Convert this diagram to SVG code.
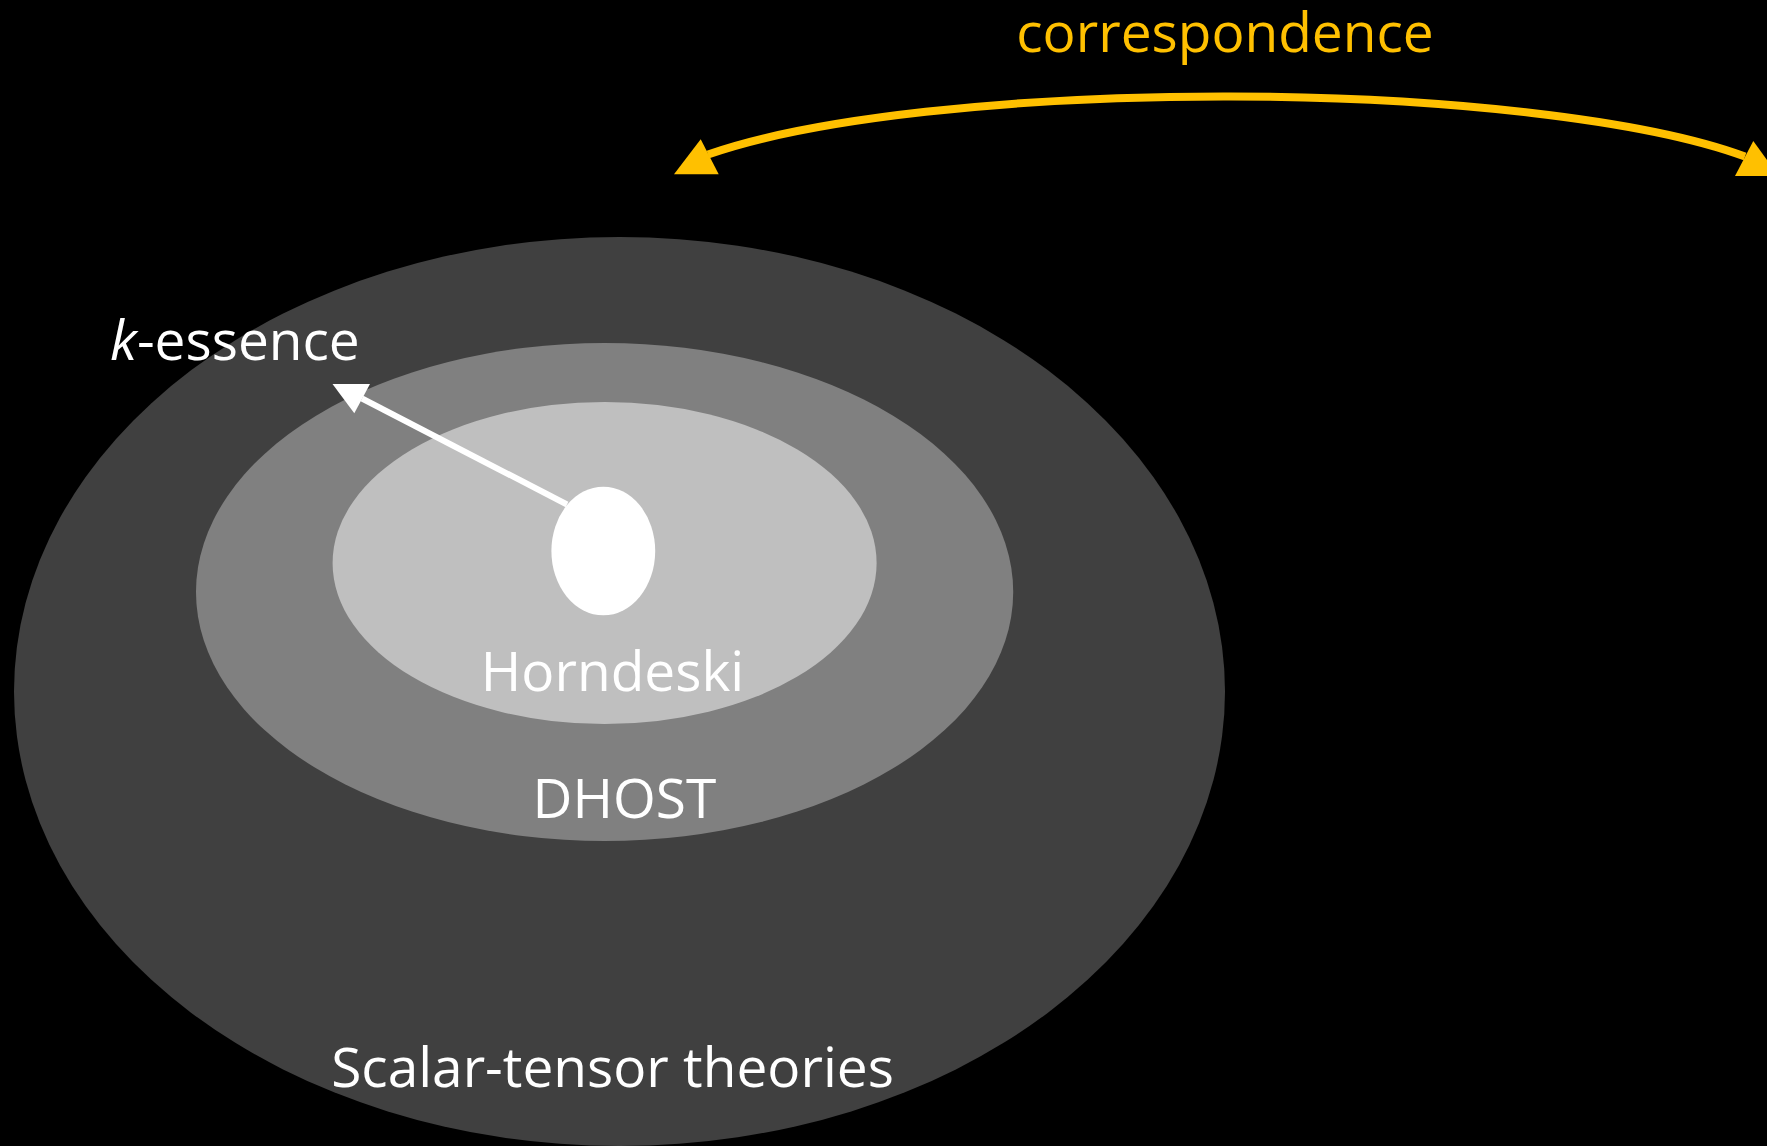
<svg xmlns="http://www.w3.org/2000/svg" width="1767" height="1146" viewBox="0 0 1767 1146">
  <style>
    .lbl { font-family: "Open Sans", "Noto Sans", "Liberation Sans", sans-serif; font-size: 55px; fill: #FFFFFF; }
    .gold { fill: #FFC000; }
  </style>
  <rect x="0" y="0" width="1767" height="1146" fill="#000000"/>
  <g id="scalar-tensor">
    <ellipse cx="619.5" cy="691.5" rx="605.5" ry="454.5" fill="#404040"/>
    <text class="lbl" x="612.5" y="1087" text-anchor="middle">Scalar-tensor theories</text>
  </g>
  <g id="dhost">
    <ellipse cx="604.6" cy="592" rx="408.6" ry="249" fill="#808080"/>
    <text class="lbl" x="624.4" y="818" text-anchor="middle">DHOST</text>
  </g>
  <g id="horndeski">
    <ellipse cx="604.6" cy="563" rx="272" ry="161" fill="#BFBFBF"/>
    <text class="lbl" x="612.5" y="691" text-anchor="middle">Horndeski</text>
  </g>
  <g id="k-essence-core">
    <ellipse cx="603.3" cy="551" rx="51.9" ry="64.3" fill="#FFFFFF"/>
  </g>
  <g id="k-essence-label">
    <text class="lbl" x="110" y="360" font-size="55.5"><tspan font-style="italic">k</tspan>-essence</text>
  </g>
  <g id="correspondence-label">
    <text class="lbl gold" x="1225" y="51.5" text-anchor="middle">correspondence</text>
  </g>
  <g id="connectors">
    <line x1="567" y1="504.5" x2="362" y2="398.5" stroke="#FFFFFF" stroke-width="6"/>
    <polygon points="332.5,384 370,384 354.3,413.3" fill="#FFFFFF"/>
    <path d="M 708 154.5 A 585 110 0 0 1 1745 156.5" fill="none" stroke="#FFC000" stroke-width="8"/>
    <polygon points="700.7,139.3 674,174.3 718.7,174.3" fill="#FFC000"/>
    <polygon points="1753.3,141 1735,176 1778.5,176" fill="#FFC000"/>
  </g>
</svg>
